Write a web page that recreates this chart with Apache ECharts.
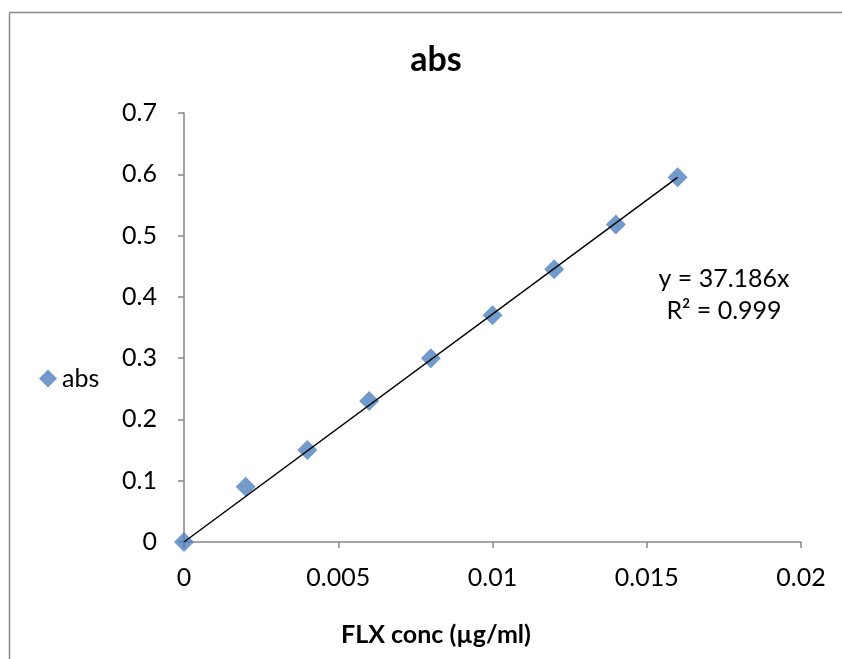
<!DOCTYPE html>
<html>
<head>
<meta charset="utf-8">
<script src="https://cdn.jsdelivr.net/npm/echarts@6/dist/echarts.min.js"></script>
<style>html,body{margin:0;padding:0;background:#fff;overflow:hidden}#c{width:842px;height:659px}</style>
</head>
<body>
<div id="c"></div>
<script>
var concX = [0, 0.002, 0.004, 0.006, 0.008, 0.010, 0.012, 0.014, 0.016];
var absY = [0, 0.09, 0.15, 0.23, 0.30, 0.37, 0.445, 0.518, 0.595];
var trendX = [0, 0.016];
var trendY = [0, 0.595];
var xTicks = [0, 0.005, 0.01, 0.015, 0.02];
var yTicks = [0, 0.1, 0.2, 0.3, 0.4, 0.5, 0.6, 0.7];
var titleText = 'abs';
var xName = 'FLX conc (µg/ml)';
var eqText = 'y = 37.186x\nR² = 0.999';

var FONT = 'Lato, "Open Sans", sans-serif';
var chart = echarts.init(document.getElementById('c'), null, {renderer: 'canvas'});
chart.setOption({
  animation: false,
  backgroundColor: '#fff',
  title: [{
    text: titleText, left: 431, top: 38, textAlign: 'center',
    textStyle: {fontFamily: FONT, fontSize: 34, fontWeight: 'bold', color: '#000'}
  }, {
    text: xName, left: 431, top: 617, textAlign: 'center',
    textStyle: {fontFamily: FONT, fontSize: 25, fontWeight: 'bold', color: '#000'}
  }],
  legend: {
    left: 34, top: 361, itemWidth: 18, itemHeight: 18, itemGap: 4,
    data: [{name: 'abs', icon: 'diamond'}],
    textStyle: {fontFamily: FONT, fontSize: 25, color: '#000', padding: [0,0,0,0]}
  },
  grid: {left: 184, right: 41, top: 113, bottom: 117, containLabel: false},
  xAxis: {
    type: 'value', min: 0, max: 0.02, interval: 0.005,
    axisLine: {show: true, lineStyle: {color: '#868686', width: 1.5}},
    axisTick: {show: true, length: 6, inside: false, lineStyle: {color: '#868686', width: 1.5}},
    splitLine: {show: false},
    axisLabel: {fontFamily: FONT, fontSize: 25, color: '#000', margin: 23,
      formatter: function (v) { for (var i = 0; i < xTicks.length; i++) { if (Math.abs(xTicks[i]-v) < 1e-9) return String(xTicks[i]); } return ''; }}
  },
  yAxis: {
    type: 'value', min: 0, max: 0.7, interval: 0.1,
    axisLine: {show: true, lineStyle: {color: '#868686', width: 1.5}},
    axisTick: {show: true, length: 6, inside: false, lineStyle: {color: '#868686', width: 1.5}},
    splitLine: {show: false},
    axisLabel: {fontFamily: FONT, fontSize: 25, color: '#000', margin: 27,
      formatter: function (v) { for (var i = 0; i < yTicks.length; i++) { if (Math.abs(yTicks[i]-v) < 1e-9) return String(yTicks[i]); } return ''; }}
  },
  series: [{
    name: 'trend', type: 'line', data: trendX.map(function (x, i) { return [x, trendY[i]]; }),
    showSymbol: false, symbol: 'none', lineStyle: {color: '#000', width: 1.5}, z: 3, silent: true
  }, {
    name: 'abs', type: 'scatter', symbol: 'diamond', symbolSize: 20,
    data: concX.map(function (x, i) { return [x, absY[i]]; }),
    itemStyle: {color: '#4F81BD'}, z: 2
  }],
  graphic: [{
    type: 'line', shape: {x1: 9.5, y1: 12.5, x2: 842, y2: 12.5},
    style: {stroke: '#888', lineWidth: 1.5}, silent: true
  }, {
    type: 'line', shape: {x1: 9.5, y1: 12.5, x2: 9.5, y2: 659},
    style: {stroke: '#888', lineWidth: 1.5}, silent: true
  }, {
    type: 'text', x: 724, y: 263, style: {
      text: eqText, fontFamily: FONT, fontSize: 25, fill: '#000', align: 'center', lineHeight: 32
    }
  }]
});
</script>
</body>
</html>
